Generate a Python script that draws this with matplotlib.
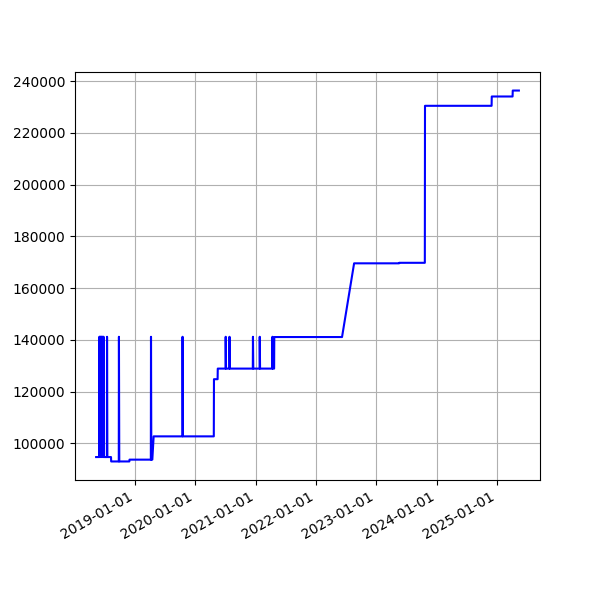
import matplotlib
matplotlib.use("Agg")
import matplotlib.pyplot as plt
import matplotlib.dates as mdates
import pandas as pd

dates = [
    "2018-05-12", "2018-05-31", "2018-06-01", "2018-06-02", "2018-06-04", "2018-06-05",
    "2018-06-07", "2018-06-08", "2018-06-11", "2018-06-12", "2018-06-14", "2018-06-15",
    "2018-06-18", "2018-06-19", "2018-06-22", "2018-06-23", "2018-06-26", "2018-06-27",
    "2018-07-16", "2018-07-17", "2018-07-19", "2018-08-10", "2018-08-11", "2018-09-26",
    "2018-09-27", "2018-09-29", "2018-11-29", "2018-11-30", "2019-04-08", "2019-04-09",
    "2019-04-11", "2019-04-17", "2019-04-25", "2019-10-16", "2019-10-17", "2019-10-19",
    "2020-04-23", "2020-04-24", "2020-05-16", "2020-05-17", "2020-07-03", "2020-07-04",
    "2020-07-06", "2020-07-26", "2020-07-27", "2020-07-29", "2020-12-15", "2020-12-16",
    "2020-12-18", "2021-01-25", "2021-01-26", "2021-01-28", "2021-04-12", "2021-04-13",
    "2021-04-15", "2021-04-23", "2021-04-24", "2022-06-08", "2022-08-20", "2023-05-19",
    "2023-05-20", "2023-10-22", "2023-10-23", "2024-11-29", "2024-11-30", "2025-04-05",
    "2025-04-06", "2025-05-13",
]
values = [
    94700, 94700, 141200, 94700, 141200, 94700,
    141200, 94700, 141200, 94700, 141200, 94700,
    141200, 94700, 141200, 94700, 141200, 94700,
    94700, 141200, 94700, 94700, 93000, 93000,
    141200, 93000, 93000, 93700, 93700, 141200,
    93700, 93700, 102700, 102700, 141200, 102700,
    102700, 124800, 124800, 128900, 128900, 141200,
    128900, 128900, 141200, 128900, 128900, 141200,
    128900, 128900, 141200, 128900, 128900, 141200,
    128900, 128900, 141100, 141100, 169600, 169600,
    169800, 169800, 230500, 230500, 234100, 234100,
    236400, 236400,
]

series = pd.Series(values, index=pd.to_datetime(dates))

fig, ax = plt.subplots(figsize=(6, 6), dpi=100)
ax.plot(series.index, series.values, color="blue")
ax.xaxis.set_major_locator(mdates.YearLocator())
ax.xaxis.set_major_formatter(mdates.DateFormatter("%Y-%m-%d"))
ax.grid(True)
fig.autofmt_xdate()
fig.savefig("out.png", dpi=100)
plt.close(fig)
